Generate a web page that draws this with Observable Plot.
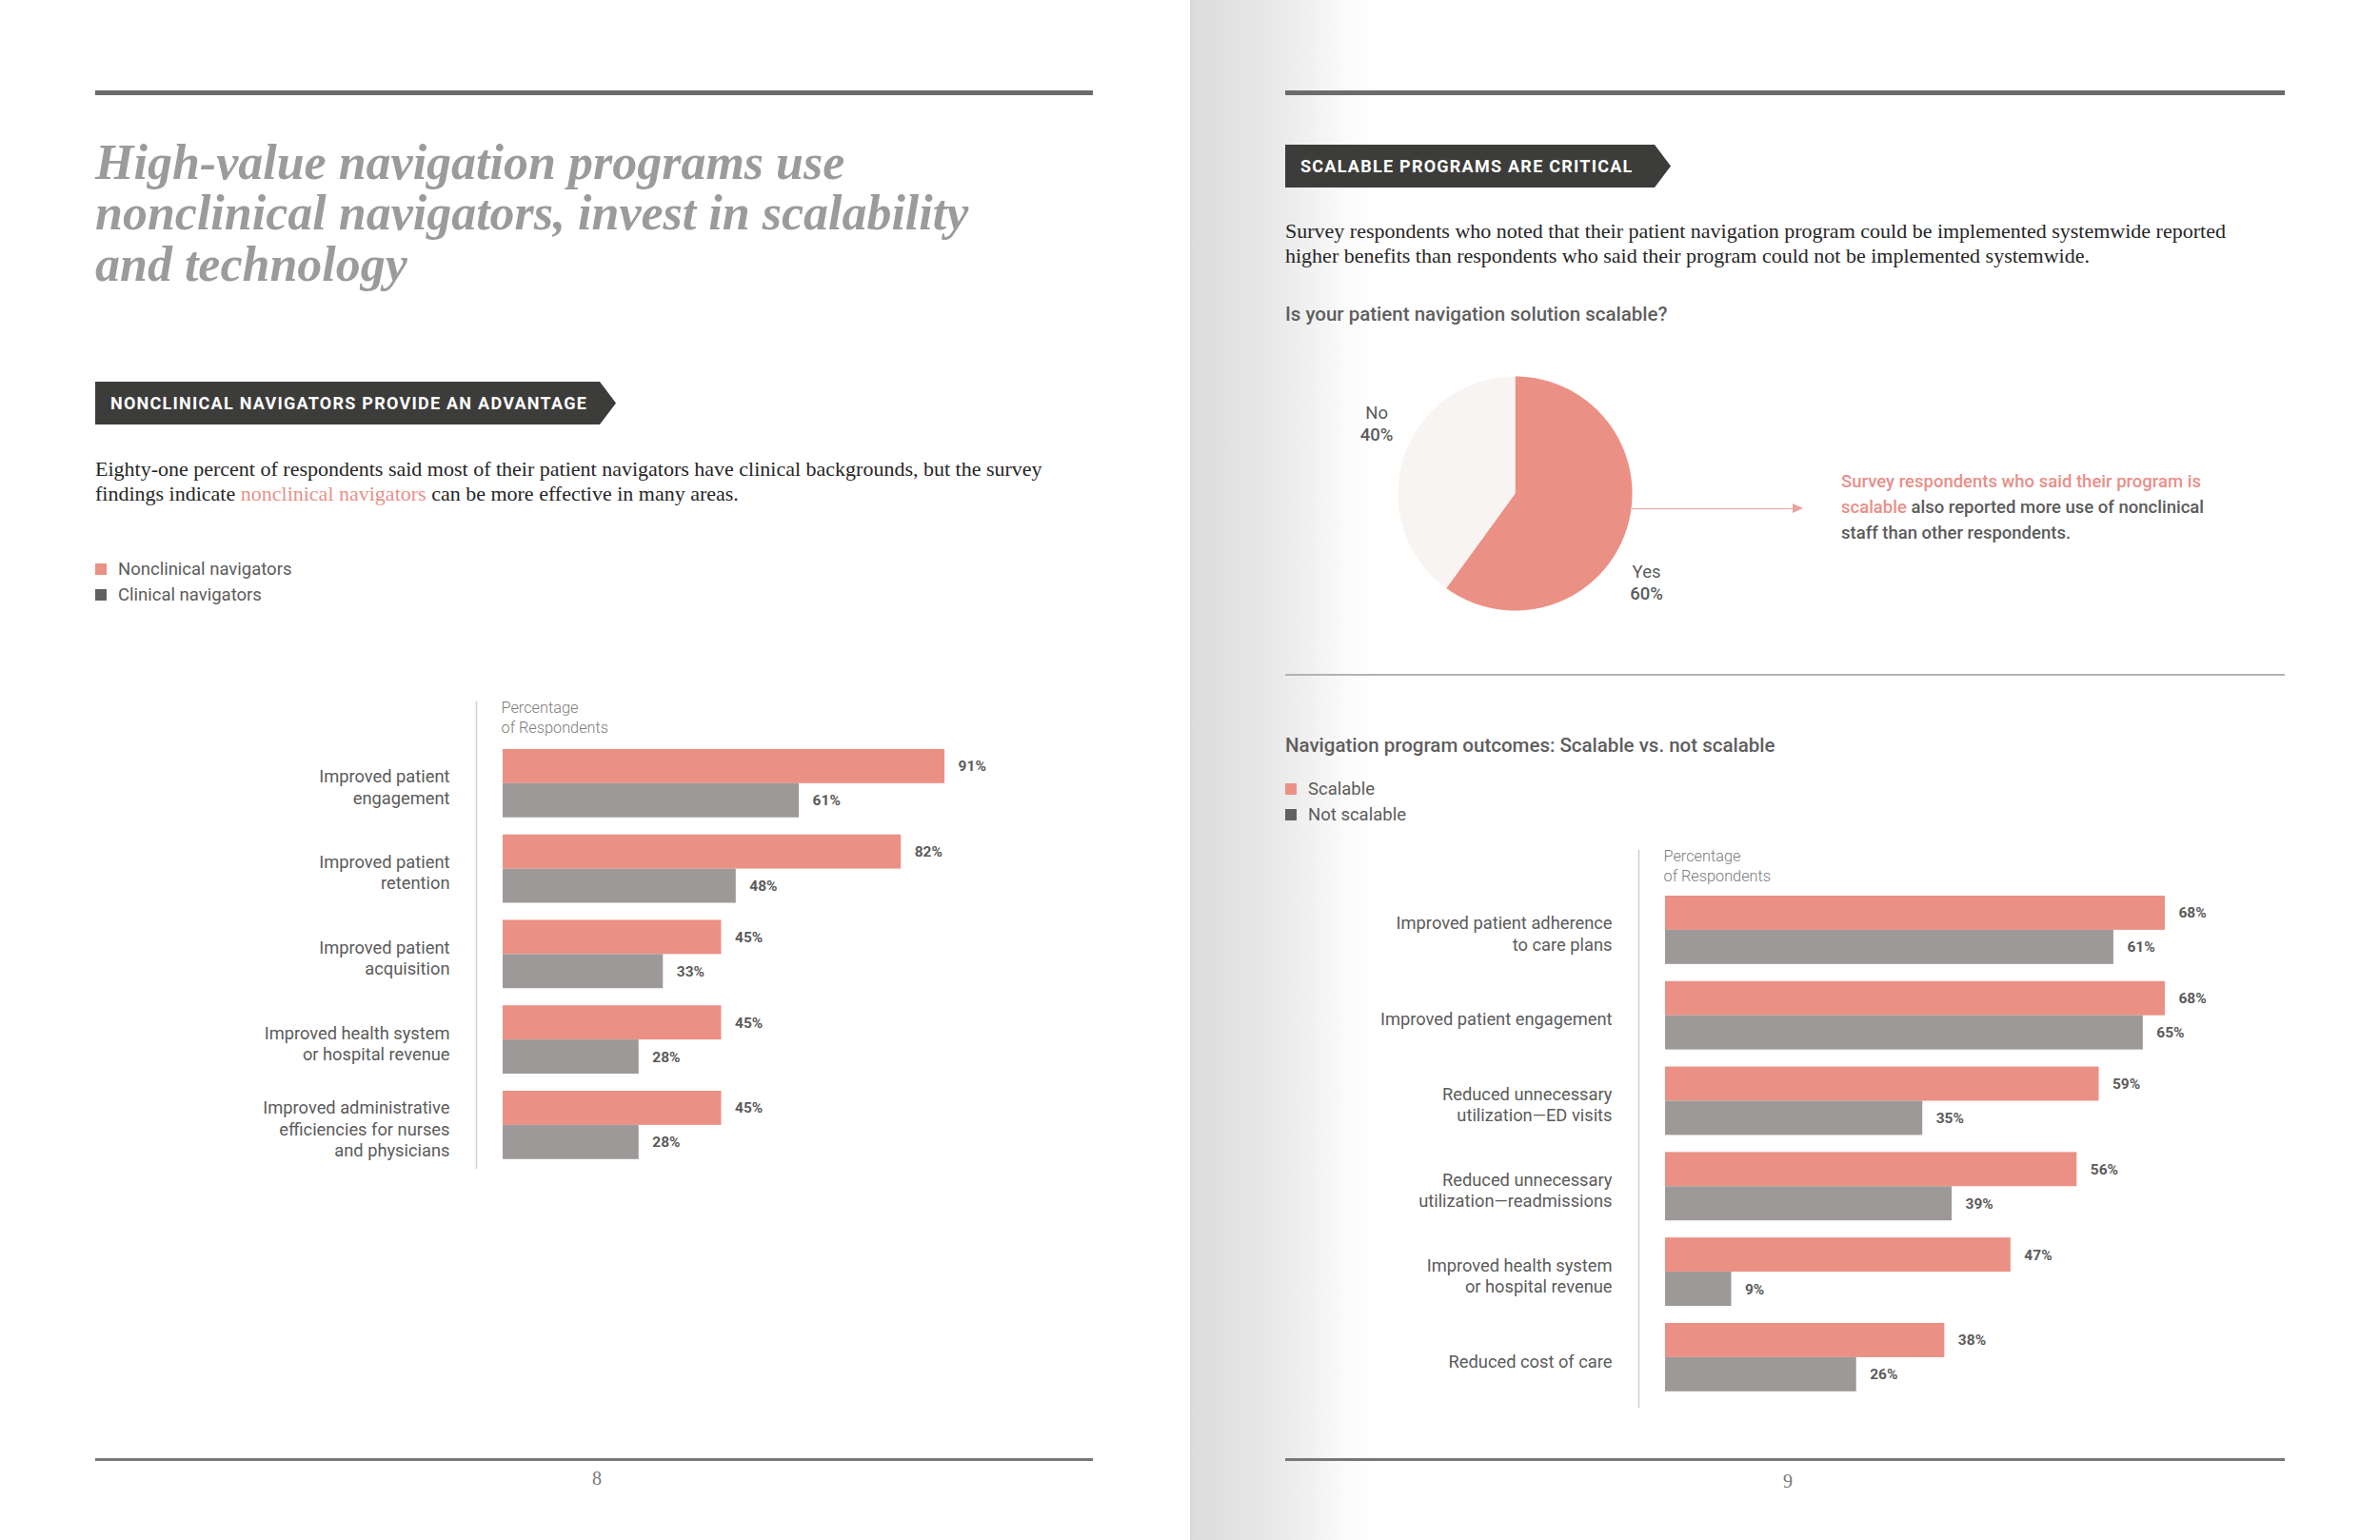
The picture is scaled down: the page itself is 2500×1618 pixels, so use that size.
<!DOCTYPE html>
<html>
<head>
<meta charset="utf-8">
<script src="https://cdn.jsdelivr.net/npm/d3@7"></script>
<script src="https://cdn.jsdelivr.net/npm/@observablehq/plot@0.6"></script>
<style>
  html, body { margin: 0; padding: 0; background: #ffffff; }
  #page { position: relative; width: 2500px; height: 1618px; overflow: hidden; background: #ffffff; font-family: Roboto, "Noto Sans", sans-serif; }
  .abs { position: absolute; white-space: nowrap; }
  .fold { position: absolute; left: 1250px; top: 0; width: 200px; height: 1618px;
          background: linear-gradient(to right, #d4d4d4 0px, #dcdcdc 3px, #dfdfdf 25px, #e4e4e4 55px, #eaeaea 95px, #f2f2f2 130px, #fbfbfb 165px, #ffffff 195px); }
  .rule { position: absolute; background: #6b6b6b; }
  .title { font-family: "Liberation Serif", serif; font-style: italic; font-weight: 700; font-size: 52px; line-height: 53.5px; color: #9b9b9b; }
  .banner { position: absolute; height: 45px; line-height: 45px; background: #3c3c3a; color: #ffffff;
            font-family: Roboto, sans-serif; font-weight: 700; font-size: 18px; letter-spacing: 1.25px; padding-left: 16px; box-sizing: border-box;
            clip-path: polygon(0 0, calc(100% - 17px) 0, 100% 50%, calc(100% - 17px) 100%, 0 100%); white-space: nowrap; }
  .para { font-family: "Liberation Serif", serif; font-size: 22px; line-height: 26px; color: #262626; }
  .hl { color: #e8908a; }
  .legend { font-size: 18.5px; line-height: 27px; color: #5b5b5b; }
  .legend .sw { display: inline-block; width: 12px; height: 12px; margin-right: 12px; vertical-align: 0px; }
  .subhead { font-size: 20.5px; line-height: 24px; font-weight: 500; color: #5e5e5e; }
  .callout { font-size: 18.5px; line-height: 27px; font-weight: 500; color: #5b5b5b; }
  .pageno { font-family: "Liberation Serif", serif; font-size: 20px; line-height: 20px; color: #7a7a7a; transform: translateX(-50%); }
  .arrowline { position: absolute; height: 1.5px; background: #e9a29b; }
  .arrowhead { position: absolute; width: 0; height: 0; border-top: 5px solid transparent; border-bottom: 5px solid transparent; border-left: 11px solid #e9a29b; }
</style>
</head>
<body>
<div id="page">
  <div class="fold"></div>

  <!-- left page -->
  <div class="rule" style="left:100px; top:95px; width:1048px; height:5px;"></div>
  <div class="abs title" style="left:100px; top:143.5px;">High-value navigation programs use<br>nonclinical navigators, invest in scalability<br>and technology</div>
  <div class="banner" style="left:100px; top:401px; width:547px;">NONCLINICAL NAVIGATORS PROVIDE AN ADVANTAGE</div>
  <div class="abs para" style="left:100px; top:479.5px;">Eighty-one percent of respondents said most of their patient navigators have clinical backgrounds, but the survey<br>findings indicate <span class="hl">nonclinical navigators</span> can be more effective in many areas.</div>
  <div class="abs legend" id="leftLegend" style="left:100px; top:585px;"></div>
  <div class="abs" id="leftChart" style="left:100px; top:720px;"></div>
  <div class="rule" style="left:100px; top:1532px; width:1048px; height:2.5px; background:#777777;"></div>
  <div class="abs pageno" style="left:627px; top:1543px;">8</div>

  <!-- right page -->
  <div class="rule" style="left:1350px; top:95px; width:1050px; height:5px;"></div>
  <div class="banner" style="left:1350px; top:152px; width:405px;">SCALABLE PROGRAMS ARE CRITICAL</div>
  <div class="abs para" style="left:1350px; top:229.5px;">Survey respondents who noted that their patient navigation program could be implemented systemwide reported<br>higher benefits than respondents who said their program could not be implemented systemwide.</div>
  <div class="abs subhead" style="left:1350px; top:318px;">Is your patient navigation solution scalable?</div>
  <div class="abs" id="pieChart" style="left:1350px; top:380px;"></div>
  <div class="arrowline" style="left:1714px; top:533.5px; width:170px;"></div>
  <div class="arrowhead" style="left:1883px; top:529px;"></div>
  <div class="abs callout" style="left:1934px; top:493px;"><span class="hl">Survey respondents who said their program is</span><br><span class="hl">scalable</span> also reported more use of nonclinical<br>staff than other respondents.</div>
  <div class="rule" style="left:1350px; top:708px; width:1050px; height:1.5px; background:#b3b3b3;"></div>
  <div class="abs subhead" style="left:1350px; top:771px;">Navigation program outcomes: Scalable vs. not scalable</div>
  <div class="abs legend" id="rightLegend" style="left:1350px; top:816px;"></div>
  <div class="abs" id="rightChart" style="left:1350px; top:880px;"></div>
  <div class="rule" style="left:1350px; top:1532px; width:1050px; height:2.5px; background:#777777;"></div>
  <div class="abs pageno" style="left:1878px; top:1546px;">9</div>
</div>

<script>
// ---------------- data ----------------
const leftCategories = [
  "Improved patient engagement",
  "Improved patient retention",
  "Improved patient acquisition",
  "Improved health system or hospital revenue",
  "Improved administrative efficiencies for nurses and physicians"
];
const leftCategoryLabels = [
  "Improved patient\nengagement",
  "Improved patient\nretention",
  "Improved patient\nacquisition",
  "Improved health system\nor hospital revenue",
  "Improved administrative\nefficiencies for nurses\nand physicians"
];
const leftSeries = ["Nonclinical navigators", "Clinical navigators"];
const nonclinicalValues = [91, 82, 45, 45, 45];
const clinicalValues = [61, 48, 33, 28, 28];

const rightCategories = [
  "Improved patient adherence to care plans",
  "Improved patient engagement",
  "Reduced unnecessary utilization—ED visits",
  "Reduced unnecessary utilization—readmissions",
  "Improved health system or hospital revenue",
  "Reduced cost of care"
];
const rightCategoryLabels = [
  "Improved patient adherence\nto care plans",
  "Improved patient engagement",
  "Reduced unnecessary\nutilization—ED visits",
  "Reduced unnecessary\nutilization—readmissions",
  "Improved health system\nor hospital revenue",
  "Reduced cost of care"
];
const rightSeries = ["Scalable", "Not scalable"];
const scalableValues = [68, 68, 59, 56, 47, 38];
const notScalableValues = [61, 65, 35, 39, 9, 26];

const pieAnswers = ["Yes", "No"];
const pieValues = [60, 40];

const axisTitle = "Percentage\nof Respondents";

// ---------------- styles ----------------
const SALMON = "#eb9085";
const BAR_GRAY = "#9d9998";
const LEGEND_GRAY = "#616161";
const NO_FILL = "#f7f4f2";
const TEXT_GRAY = "#5b5b5b";

// ---------------- legends ----------------
function legend(el, series) {
  const colors = [SALMON, LEGEND_GRAY];
  el.innerHTML = series.map((s, i) =>
    `<div><span class="sw" style="background:${colors[i]}"></span>${s}</div>`).join("");
}
legend(document.getElementById("leftLegend"), leftSeries);
legend(document.getElementById("rightLegend"), rightSeries);

// ---------------- grouped bar chart ----------------
function groupedBars({categories, labels, series, values, width, height, marginLeft, marginTop, marginBottom, pxPerPct, paddingOuter, align}) {
  const rows = [];
  series.forEach((s, si) => categories.forEach((c, ci) =>
    rows.push({category: c, series: s, value: values[si][ci], si})));
  const n = categories.length;
  const paddingInner = 0.2;
  const step = (height - marginTop - marginBottom) / (n - paddingInner + 2 * paddingOuter);
  const bw = step * (1 - paddingInner);
  const half = bw / 2;
  const first = rows.filter(d => d.si === 0);
  const second = rows.filter(d => d.si === 1);
  return Plot.plot({
    width, height, marginLeft, marginTop, marginBottom, marginRight: 0,
    style: {fontFamily: "Roboto, sans-serif", background: "transparent", overflow: "visible", color: TEXT_GRAY},
    x: {domain: [0, 100], range: [marginLeft, marginLeft + 100 * pxPerPct], axis: null},
    y: {domain: categories, paddingInner, paddingOuter, align, round: false, axis: null},
    color: {domain: series, range: [SALMON, BAR_GRAY]},
    marks: [
      Plot.ruleX([0], {dx: -28, stroke: "#d0d0d0", strokeWidth: 1.5}),
      Plot.text([axisTitle], {frameAnchor: "top-left", dx: -2, dy: -3, lineAnchor: "top", textAnchor: "start",
        fontSize: 16.3, fontWeight: 300, fill: "#7c7c7c", lineHeight: 1.27}),
      Plot.barX(first, {x: "value", y: "category", fill: "series", insetBottom: half}),
      Plot.barX(second, {x: "value", y: "category", fill: "series", insetTop: half}),
      Plot.text(first, {x: "value", y: "category", text: d => d.value + "%", dx: 14, dy: -half / 2,
        textAnchor: "start", fontSize: 15.5, fontWeight: 700, fill: TEXT_GRAY}),
      Plot.text(second, {x: "value", y: "category", text: d => d.value + "%", dx: 14, dy: half / 2,
        textAnchor: "start", fontSize: 15.5, fontWeight: 700, fill: TEXT_GRAY}),
      Plot.text(categories, {y: d => d, text: (d, i) => labels[i], frameAnchor: "left", dx: -56, dy: 3,
        textAnchor: "end", lineAnchor: "middle", lineHeight: 1.22, fontSize: 18.3, fill: TEXT_GRAY})
    ]
  });
}

document.getElementById("leftChart").appendChild(groupedBars({
  categories: leftCategories, labels: leftCategoryLabels, series: leftSeries,
  values: [nonclinicalValues, clinicalValues],
  width: 1040, height: 518, marginLeft: 428, marginTop: 17, marginBottom: 10,
  pxPerPct: 5.1, paddingOuter: 0.335, align: 0.83
}));

document.getElementById("rightChart").appendChild(groupedBars({
  categories: rightCategories, labels: rightCategoryLabels, series: rightSeries,
  values: [scalableValues, notScalableValues],
  width: 1100, height: 609, marginLeft: 399, marginTop: 13, marginBottom: 10,
  pxPerPct: 7.72, paddingOuter: 0.363, align: 0.736
}));

// ---------------- pie chart ----------------
const pieData = pieAnswers.map((a, i) => ({answer: a, value: pieValues[i]}));
const arcs = d3.pie().sort(null).value(d => d.value)(pieData);
const piePoints = [];
for (const a of arcs) {
  const steps = Math.max(2, Math.ceil((a.endAngle - a.startAngle) / (Math.PI / 360)));
  piePoints.push({answer: a.data.answer, px: 0, py: 0});
  for (let k = 0; k <= steps; k++) {
    const t = a.startAngle + (a.endAngle - a.startAngle) * k / steps;
    piePoints.push({answer: a.data.answer, px: Math.sin(t), py: Math.cos(t)});
  }
  piePoints.push({answer: a.data.answer, px: 0, py: 0});
}
const LABEL_RADIUS = 1.34;
const LABEL_FRACTION = 0.57;
const pieLabels = arcs.map(a => {
  const t = a.startAngle + (a.endAngle - a.startAngle) * LABEL_FRACTION;
  return {answer: a.data.answer, value: a.data.value, lx: LABEL_RADIUS * Math.sin(t), ly: LABEL_RADIUS * Math.cos(t)};
});

const PIE_CX = 241, PIE_CY = 138, PIE_R = 123;
document.getElementById("pieChart").appendChild(Plot.plot({
  width: 560, height: 290, margin: 0,
  style: {fontFamily: "Roboto, sans-serif", background: "transparent", overflow: "visible"},
  x: {domain: [-1, 1], range: [PIE_CX - PIE_R, PIE_CX + PIE_R], axis: null},
  y: {domain: [-1, 1], range: [PIE_CY + PIE_R, PIE_CY - PIE_R], axis: null},
  color: {domain: pieAnswers, range: [SALMON, NO_FILL]},
  marks: [
    Plot.line(piePoints, {x: "px", y: "py", z: "answer", fill: "answer", stroke: "none", curve: "linear"}),
    Plot.text(pieLabels, {x: "lx", y: "ly", text: "answer", dy: -7, fontSize: 18.5, fill: TEXT_GRAY}),
    Plot.text(pieLabels, {x: "lx", y: "ly", text: d => d.value + "%", dy: 16, fontSize: 18.5, fontWeight: 500, fill: TEXT_GRAY})
  ]
}));
</script>
</body>
</html>
